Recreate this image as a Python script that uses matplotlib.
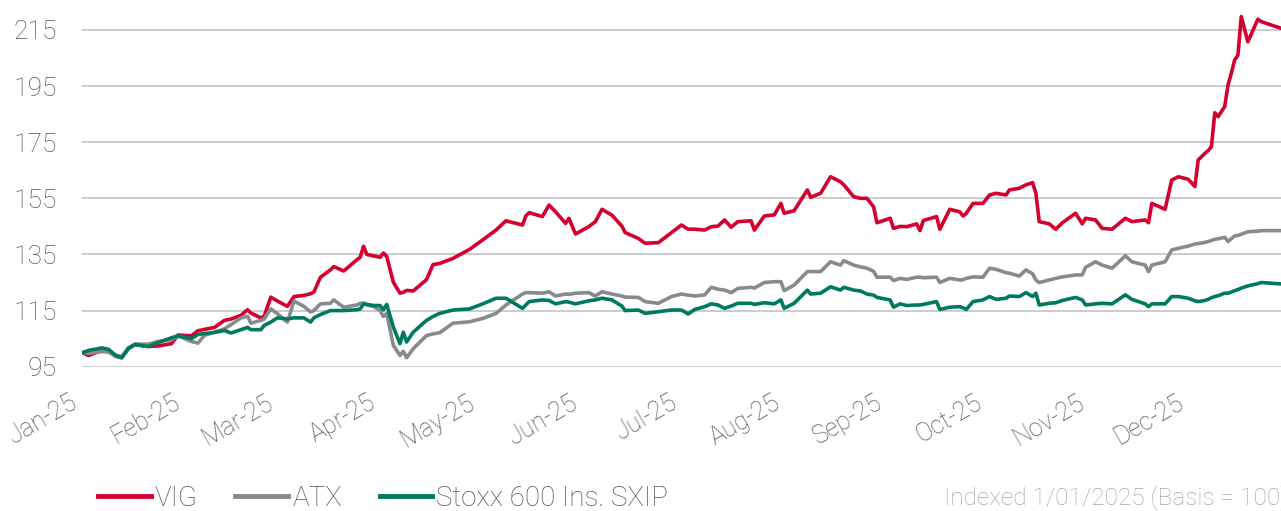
import matplotlib
matplotlib.use("Agg")
import matplotlib.pyplot as plt
import matplotlib.dates as mdates
from matplotlib.lines import Line2D
import pandas as pd

# day offsets from 1 Jan 2025
days = [0, 2, 6, 8, 10, 12, 14, 16, 20, 23, 27, 29, 33, 35, 37, 40, 43, 45, 48, 50,
        51, 54, 55, 57, 59, 62, 64, 67, 69, 70, 72, 75, 76, 79, 83, 84, 85, 86, 88, 90,
        91, 92, 94, 96, 97, 98, 100, 104, 106, 108, 112, 117, 121, 125, 128, 133, 134, 135, 139, 141,
        143, 146, 147, 149, 153, 155, 157, 160, 163, 164, 168, 170, 174, 178, 181, 183, 185, 188, 190, 192,
        194, 196, 198, 202, 203, 206, 209, 211, 212, 215, 219, 220, 223, 226, 229, 230, 233, 235, 237, 239,
        240, 244, 245, 247, 249, 252, 253, 254, 258, 259, 262, 265, 266, 267, 269, 272, 274, 276, 279, 280,
        283, 285, 287, 288, 289, 292, 294, 296, 300, 302, 303, 306, 308, 311, 315, 317, 321, 322, 323, 327,
        329, 331, 334, 336, 337, 339, 340, 341, 342, 343, 345, 346, 347, 348, 349, 350, 352, 355, 356, 362]

vig = [100, 99.0, 100.8, 100.6, 98.8, 98.2, 101.5, 102.9, 102.2, 102.4, 103.2, 106.3, 106.0, 107.8, 108.3, 109.0, 111.5, 112.0, 113.3, 115.3,
       114.1, 112.4, 113.0, 119.8, 118.4, 116.5, 120.0, 120.4, 121.0, 121.6, 126.9, 129.5, 130.7, 129.1, 133.1, 134.0, 137.9, 135.0, 134.5, 134.0,
       135.5, 134.3, 125.1, 121.2, 121.5, 122.2, 122.0, 126.0, 131.4, 131.8, 133.6, 136.8, 140.2, 143.7, 147.0, 145.5, 148.7, 149.9, 148.5, 152.6,
       150.2, 146.1, 147.9, 142.3, 144.9, 146.7, 151.1, 149.0, 145.1, 142.8, 140.7, 139.0, 139.2, 142.8, 145.5, 144.0, 144.0, 143.7, 144.9, 145.1,
       147.3, 144.7, 146.7, 147.0, 143.7, 148.7, 149.1, 153.2, 149.7, 150.6, 158.0, 155.4, 156.8, 162.7, 160.9, 159.8, 155.6, 155.0, 155.0, 152.0,
       146.3, 147.9, 144.3, 145.0, 144.9, 145.9, 143.5, 147.1, 148.5, 144.0, 151.1, 150.2, 148.7, 149.7, 153.2, 153.2, 156.2, 156.8, 156.2, 158.0,
       158.6, 159.8, 160.6, 156.8, 146.7, 145.9, 144.0, 146.3, 149.7, 145.9, 147.9, 147.3, 144.3, 144.0, 147.9, 146.7, 147.3, 146.3, 153.2, 151.1,
       161.5, 162.7, 161.8, 159.2, 168.7, 171.0, 172.0, 173.4, 185.5, 184.1, 187.7, 195.4, 199.6, 204.3, 206.1, 219.8, 210.8, 218.8, 218.0, 215.6]

atx = [100, 99.8, 100.4, 100.2, 99.0, 98.6, 101.7, 103.1, 103.0, 104.0, 104.6, 106.0, 104.0, 103.4, 106.2, 107.3, 108.5, 110.0, 112.4, 113.0,
       110.5, 111.5, 112.0, 115.6, 113.9, 110.9, 118.4, 116.5, 114.5, 115.0, 117.4, 117.6, 118.8, 116.2, 117.0, 117.6, 117.7, 117.0, 116.5, 115.0,
       112.9, 114.0, 102.6, 99.0, 100.5, 98.2, 101.4, 106.1, 106.7, 107.1, 110.5, 111.0, 112.2, 114.0, 117.0, 120.9, 121.4, 121.4, 121.2, 121.7,
       120.2, 120.9, 120.8, 121.2, 121.4, 120.2, 121.7, 120.9, 120.2, 119.8, 119.7, 118.2, 117.6, 120.0, 120.9, 120.5, 120.2, 120.6, 123.3, 122.6,
       122.3, 121.4, 122.9, 123.3, 123.0, 125.0, 125.3, 125.3, 122.1, 124.1, 128.9, 128.9, 128.9, 132.4, 131.2, 132.8, 131.2, 130.6, 130.1, 129.0,
       126.9, 126.9, 125.7, 126.5, 126.1, 126.9, 126.9, 126.7, 126.9, 125.0, 126.5, 125.9, 126.0, 126.5, 127.0, 126.9, 130.1, 129.7, 128.5, 128.3,
       127.3, 129.5, 128.1, 125.9, 125.0, 125.9, 126.5, 127.0, 127.7, 127.7, 130.4, 132.4, 131.2, 130.1, 134.5, 132.4, 131.2, 128.9, 131.2, 132.4,
       136.6, 137.2, 138.0, 138.7, 138.9, 139.3, 139.6, 140.0, 140.4, 140.6, 141.1, 139.6, 140.6, 141.6, 141.8, 142.2, 143.1, 143.3, 143.5, 143.5]

sxip = [100, 100.8, 101.7, 101.2, 99.2, 98.2, 101.5, 102.9, 102.2, 103.6, 105.3, 106.0, 105.0, 106.5, 106.8, 107.2, 107.9, 107.0, 108.2, 109.0,
        108.2, 108.2, 109.7, 110.9, 112.4, 112.0, 112.4, 112.4, 110.9, 112.4, 113.6, 115.0, 115.0, 115.0, 115.3, 115.6, 117.4, 117.2, 116.8, 116.8,
        115.3, 117.2, 109.1, 103.2, 107.3, 103.8, 107.3, 111.5, 112.9, 114.0, 115.2, 115.6, 117.4, 119.4, 119.4, 115.8, 117.0, 118.2, 118.8, 118.6,
        117.4, 118.2, 118.0, 117.4, 118.5, 118.8, 119.4, 118.8, 116.6, 115.0, 115.2, 114.0, 114.6, 115.2, 115.2, 113.8, 115.4, 116.4, 117.4, 117.0,
        115.8, 116.6, 117.6, 117.6, 117.2, 117.8, 117.4, 118.8, 115.8, 117.6, 122.3, 120.9, 121.2, 123.5, 122.3, 123.3, 122.3, 122.0, 120.9, 120.5,
        119.7, 118.8, 116.2, 117.4, 116.8, 117.0, 117.0, 117.2, 118.2, 115.4, 116.2, 116.4, 116.0, 115.4, 118.2, 118.8, 120.0, 119.0, 119.4, 120.2,
        120.0, 121.4, 120.0, 121.2, 117.0, 117.6, 117.8, 118.6, 119.7, 118.8, 117.0, 117.4, 117.6, 117.4, 120.6, 119.0, 117.4, 116.4, 117.4, 117.4,
        120.0, 120.0, 119.4, 118.5, 118.2, 118.6, 119.0, 119.6, 120.0, 120.3, 121.2, 121.2, 121.6, 122.1, 122.5, 123.0, 123.8, 124.6, 125.0, 124.5]

series_names = ["VIG", "ATX", "Stoxx 600 Ins. SXIP"]
y_ticks = [95, 115, 135, 155, 175, 195, 215]
note = "Indexed 1/01/2025 (Basis = 100)"

colors = ["#d4002f", "#878b8d", "#007a5e"]
tick_color = "#50565b"

plt.rcParams['font.family'] = ['Roboto', 'DejaVu Sans']

start = pd.Timestamp("2025-01-01")
dates = start + pd.to_timedelta(days, unit="D")

W, H = 1281, 511
fig = plt.figure(figsize=(W / 100, H / 100), dpi=100)
left_px, right_px, top_px, bottom_px = 82, 1281, 0, 366.7
ax = fig.add_axes([left_px / W, 1 - bottom_px / H, (right_px - left_px) / W, (bottom_px - top_px) / H])

ax.plot(dates, atx, color=colors[1], lw=2.6, zorder=3, solid_joinstyle='round')
ax.plot(dates, sxip, color=colors[2], lw=2.6, zorder=4, solid_joinstyle='round')
ax.plot(dates, vig, color=colors[0], lw=2.6, zorder=2, solid_joinstyle='round')

ax.set_xlim(start, start + pd.Timedelta(days=362))
ax.set_ylim(95, 215 + 30 / 2.806)
ax.set_yticks(y_ticks)
ax.grid(axis='y', color="#c4c4c4", lw=1.2)
ax.set_axisbelow(True)
for s in ax.spines.values():
    s.set_visible(False)

ax.xaxis.set_major_locator(mdates.MonthLocator())
ax.xaxis.set_major_formatter(mdates.DateFormatter("%b-%y"))
ax.tick_params(axis='x', length=0, pad=17, labelsize=18, labelcolor=tick_color)
ax.tick_params(axis='y', length=0, pad=18, labelsize=19, labelcolor=tick_color)
for lab in ax.get_xticklabels():
    lab.set_rotation(30)
    lab.set_ha('right')
    lab.set_fontweight('light')
for lab in ax.get_yticklabels():
    lab.set_fontweight('light')

handles = [Line2D([0], [0], color=c, lw=3.5) for c in colors]
leg = fig.legend(handles, series_names, loc='center left', bbox_to_anchor=(98 / W, 1 - 498 / H),
                 ncol=3, frameon=False, fontsize=20, handlelength=1.9, handletextpad=0.15,
                 columnspacing=1.35, borderpad=0, borderaxespad=0)
for t in leg.get_texts():
    t.set_color(tick_color)
    t.set_fontweight('light')

fig.text(944 / W, 1 - 498 / H, note, ha='left', va='center', fontsize=17.6, color="#a8a8a8",
         fontweight='light')

fig.savefig("out.png", dpi=100)
